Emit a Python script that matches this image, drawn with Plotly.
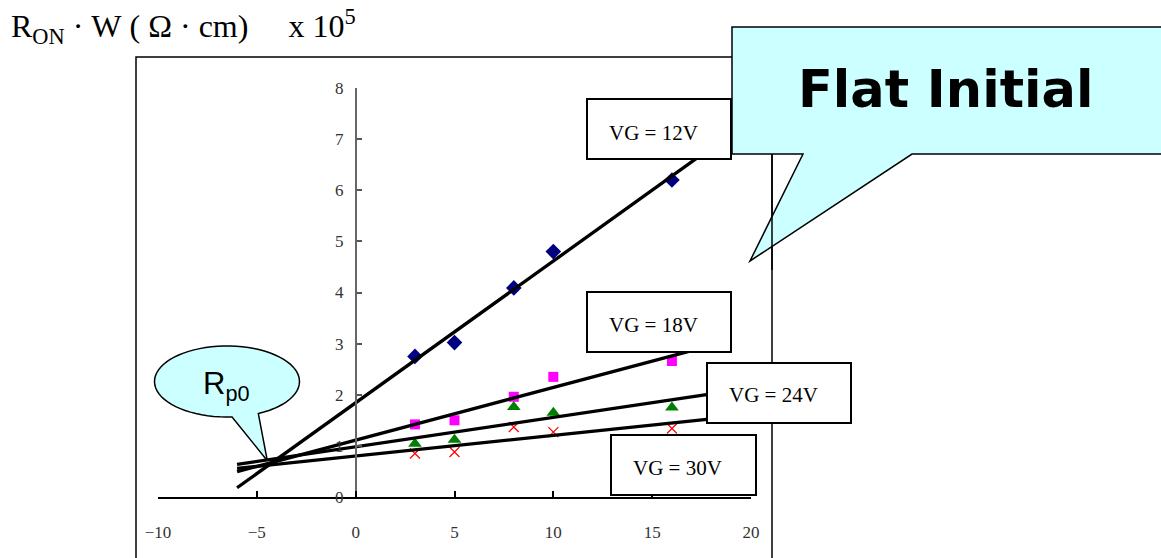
import numpy as np
import plotly.graph_objects as go

W, H = 1161, 558

# Channel length axis values and measured R_ON*W for each gate voltage
channel_len = [3, 5, 8, 10, 16]
ron_vg12 = [2.75, 3.02, 4.09, 4.80, 6.20]
ron_vg18 = [1.42, 1.50, 1.96, 2.35, 2.66]
ron_vg24 = [1.04, 1.12, 1.76, 1.65, 1.75]
ron_vg30 = [0.85, 0.88, 1.37, 1.27, 1.34]
gate_labels = ["VG = 12V", "VG = 18V", "VG = 24V", "VG = 30V"]
fit_span = [-6, 18]
x_ticks = [-10, -5, 0, 5, 10, 15, 20]
y_ticks = [0, 1, 2, 3, 4, 5, 6, 7, 8]


def px(x):
    return x / W


def py(y):
    return 1 - y / H


series = [
    (ron_vg12, dict(symbol="diamond", size=12, color="#000080")),
    (ron_vg18, dict(symbol="square", size=10, color="#FF00FF")),
    (ron_vg24, dict(symbol="triangle-up", size=12, color="#008000")),
    (ron_vg30, dict(symbol="x-thin", size=10, color="#FF0000",
                    line=dict(color="#FF0000", width=1.2))),
]

fig = go.Figure()

for vals, mk in series:
    fig.add_trace(go.Scatter(x=channel_len, y=vals, mode="markers",
                             marker=mk, cliponaxis=False, hoverinfo="x+y"))

# least-squares trend lines extrapolated back toward the common crossing point
for vals, _ in series:
    slope, icpt = np.polyfit(channel_len, vals, 1)
    xs = np.array(fit_span, dtype=float)
    fig.add_trace(go.Scatter(x=xs, y=slope * xs + icpt, mode="lines",
                             line=dict(color="black", width=3.3), hoverinfo="skip"))

shapes = []

# outer chart frame
shapes.append(dict(type="rect", xref="paper", yref="paper",
                   x0=px(136), x1=px(772), y0=py(57), y1=py(640),
                   line=dict(color="black", width=1.5), layer="above"))

# gate-voltage label boxes
boxes = [(587, 99, 731, 159), (587, 292, 731, 352),
         (707, 363, 851, 423), (611, 435, 756, 495)]
text_pos = [(607, 133), (607, 325), (727, 395), (631, 468)]
for (x0, y0, x1, y1) in boxes:
    shapes.append(dict(type="rect", xref="paper", yref="paper",
                       x0=px(x0), x1=px(x1), y0=py(y0), y1=py(y1),
                       fillcolor="white", line=dict(color="black", width=2),
                       layer="above"))

# "Flat Initial" speech callout
callout = [(732, 27), (1175, 27), (1175, 154), (912, 154), (750, 261), (803, 154), (732, 154)]
path = "M " + " L ".join(f"{px(a):.5f},{py(b):.5f}" for a, b in callout) + " Z"
shapes.append(dict(type="path", xref="paper", yref="paper", path=path,
                   fillcolor="#CCFFFF", line=dict(color="black", width=1.5),
                   layer="above"))
shapes.append(dict(type="line", xref="paper", yref="paper",
                   x0=px(772), x1=px(772), y0=py(154), y1=py(270),
                   line=dict(color="black", width=1.5), layer="above"))

# R_p0 oval callout
cx, cy, rx, ry = 227, 381.5, 72.5, 35.5
ang = np.radians(np.linspace(86, 424.4, 70))
pts = [(cx + rx * np.cos(t), cy + ry * np.sin(t)) for t in ang]
pts.append((267.3, 460.7))
path = "M " + " L ".join(f"{px(a):.5f},{py(b):.5f}" for a, b in pts) + " Z"
shapes.append(dict(type="path", xref="paper", yref="paper", path=path,
                   fillcolor="#CCFFFF", line=dict(color="black", width=1.5),
                   layer="above"))

annotations = []
for label, (tx, ty) in zip(gate_labels, text_pos):
    annotations.append(dict(text=label, xref="paper", yref="paper",
                            x=px(tx), y=py(ty), xanchor="left", yanchor="middle",
                            showarrow=False,
                            font=dict(family="Liberation Serif", size=21, color="black")))

annotations.append(dict(text="<b>Flat Initial</b>", xref="paper", yref="paper",
                        x=px(945), y=py(90), xanchor="center", yanchor="middle",
                        showarrow=False,
                        font=dict(family="DejaVu Sans", size=51, color="black")))

annotations.append(dict(text="R<sub>p0</sub>", xref="paper", yref="paper",
                        x=px(201), y=py(386), xanchor="left", yanchor="middle",
                        showarrow=False,
                        font=dict(family="Liberation Sans", size=31, color="black")))

sp = "\u00a0"
title_txt = ("R<sub>ON</sub>" + sp + "·" + sp + "W" + sp + "(" + sp + "Ω" + sp + "·" + sp
             + "cm)" + sp * 5 + "x" + sp + "10<sup>5</sup>")
annotations.append(dict(text=title_txt, xref="paper", yref="paper",
                        x=px(9), y=py(27), xanchor="left", yanchor="middle",
                        showarrow=False,
                        font=dict(family="Liberation Serif", size=32, color="black")))

tick_font = dict(family="Liberation Serif", size=17, color="#333333")

fig.update_layout(
    width=W, height=H,
    margin=dict(l=0, r=0, t=0, b=0, pad=0, autoexpand=False),
    paper_bgcolor="white", plot_bgcolor="white",
    showlegend=False,
    shapes=shapes, annotations=annotations,
    xaxis=dict(range=[-10, 20], domain=[px(158), px(751)], anchor="y",
               automargin=False,
               tickvals=x_ticks, ticks="inside", ticklen=6, tickwidth=1.5,
               tickcolor="black", showline=True, linecolor="black", linewidth=2,
               showgrid=False, zeroline=False, tickfont=tick_font,
               ticklabelstandoff=19),
    yaxis=dict(range=[0, 8], domain=[py(497), py(88)], anchor="free",
               position=px(356), side="left", automargin=False,
               tickvals=y_ticks, ticks="inside", ticklen=5, tickwidth=1.5,
               tickcolor="#555555", showline=True, linecolor="#666666", linewidth=2,
               showgrid=False, zeroline=False, tickfont=tick_font,
               ticklabelstandoff=8),
)

fig.write_html("out.html")
